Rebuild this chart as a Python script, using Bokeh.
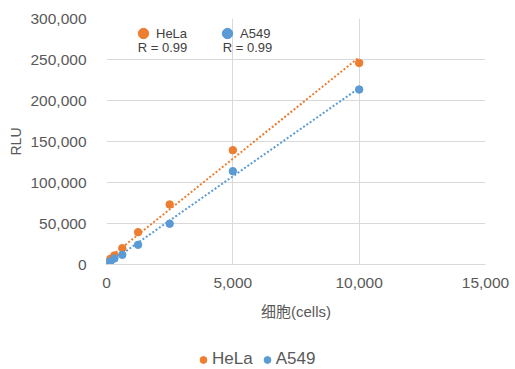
import numpy as np
from bokeh.plotting import figure
from bokeh.layouts import column
from bokeh.models import (Range1d, NumeralTickFormatter, FixedTicker, Legend,
                          LegendItem, Label)
from bokeh.embed import file_html
from bokeh.resources import INLINE

# ---- data ----
cells = [0, 78, 156, 312, 625, 1250, 2500, 5000, 10000]
hela_rlu = [1200, 4300, 7000, 11000, 19900, 39400, 73200, 139400, 245800]
a549_rlu = [800, 2400, 3700, 7300, 11800, 24000, 49700, 113800, 213400]
series_names = ["HeLa", "A549"]
r_labels = ["R = 0.99", "R = 0.99"]
x_ticks = [0, 5000, 10000, 15000]
y_ticks = [0, 50000, 100000, 150000, 200000, 250000, 300000]
x_title = "细胞(cells)"
y_title = "RLU"

colors = ["#ED7D31", "#5B9BD5"]
TEXT = "#595959"
GRID = "#d9d9d9"
FONT = "'Liberation Sans', Arial, sans-serif"
CJK_FONT = "'Liberation Sans', 'Noto Sans CJK SC', sans-serif"

MAIN_H = 335
LEG_H = 34

p = figure(width=515, height=MAIN_H, output_backend="svg", toolbar_location=None,
           x_range=Range1d(0, 15000), y_range=Range1d(0, 300000),
           min_border_left=106, min_border_right=30, min_border_top=18,
           min_border_bottom=MAIN_H - 18 - 246)
p.outline_line_color = None
p.background_fill_color = "white"
p.border_fill_color = "white"

scatter_renderers = []
for name, ys, col in zip(series_names, [hela_rlu, a549_rlu], colors):
    xs = np.array(cells, dtype=float)
    yv = np.array(ys, dtype=float)
    slope, intercept = np.polyfit(xs, yv, 1)
    tx = np.array([xs.min(), xs.max()])
    p.line(tx, slope * tx + intercept, line_color=col, line_width=2,
           line_dash="2 2")
    r = p.scatter(cells, ys, size=7.5, fill_color=col, line_color=col,
                  marker="circle")
    scatter_renderers.append(r)

# axes
for ax in (p.xaxis[0], p.yaxis[0]):
    ax.major_tick_line_color = None
    ax.minor_tick_line_color = None
    ax.major_label_text_color = TEXT
    ax.major_label_text_font = FONT
    ax.major_label_text_font_size = "15.5px"
    ax.axis_label_text_color = TEXT
    ax.axis_label_text_font_style = "normal"

p.xaxis.ticker = FixedTicker(ticks=x_ticks)
p.yaxis.ticker = FixedTicker(ticks=y_ticks)
p.xaxis.formatter = NumeralTickFormatter(format="0,0")
p.yaxis.formatter = NumeralTickFormatter(format="0,0")
p.xaxis.axis_line_color = GRID
p.yaxis.axis_line_color = None
p.xaxis.major_label_standoff = 7
p.yaxis.major_label_standoff = 14

p.xaxis.axis_label = x_title
p.xaxis.axis_label_text_font = CJK_FONT
p.xaxis.axis_label_text_font_size = "15px"
p.xaxis.axis_label_standoff = 12
p.yaxis.axis_label = y_title
p.yaxis.axis_label_text_font = FONT
p.yaxis.axis_label_text_font_size = "14px"
p.yaxis.axis_label_standoff = 3

p.xgrid.grid_line_color = GRID
p.ygrid.grid_line_color = GRID
p.xgrid.grid_line_width = 1
p.ygrid.grid_line_width = 1

# in-plot series labels with R values
top_legend = Legend(
    items=[LegendItem(label=n, renderers=[r]) for n, r in zip(series_names, scatter_renderers)],
    orientation="horizontal", location=(24, 218),
    glyph_width=26, glyph_height=26, label_standoff=0, spacing=27,
    padding=0, margin=0, border_line_color=None, background_fill_alpha=0,
    label_text_font=FONT, label_text_font_size="13px", label_text_color="#404040",
)
p.add_layout(top_legend)

for txt, xpos in zip(r_labels, [56, 141]):
    p.add_layout(Label(x=xpos, y=217, x_units="screen", y_units="screen", text=txt,
                       text_align="center", text_baseline="middle",
                       text_font=FONT, text_font_size="13px", text_color="#404040"))

# bottom legend strip (separate figure below the chart)
q = figure(width=515, height=LEG_H, output_backend="svg", toolbar_location=None,
           x_axis_location=None, y_axis_location=None,
           x_range=Range1d(0, 15000), y_range=Range1d(0, 300000),
           min_border=0)
q.outline_line_color = None
q.grid.visible = False
q.background_fill_color = "white"
q.border_fill_color = "white"
leg_renderers = []
for ys, col in zip([hela_rlu, a549_rlu], colors):
    rr = q.scatter(cells, ys, size=7.5, fill_color=col, line_color=col,
                   marker="circle", visible=False)
    leg_renderers.append(rr)

bottom_legend = Legend(
    items=[LegendItem(label=n, renderers=[r]) for n, r in zip(series_names, leg_renderers)],
    orientation="horizontal", location=(88, 0),
    glyph_width=18, glyph_height=17, label_standoff=0, spacing=5,
    padding=0, margin=0, border_line_color=None, background_fill_alpha=0,
    inactive_fill_alpha=0,
    label_text_font=FONT, label_text_font_size="17px", label_text_color=TEXT,
)
q.add_layout(bottom_legend)

layout = column(p, q, spacing=0)
open("out.html", "w").write(file_html(layout, INLINE))
